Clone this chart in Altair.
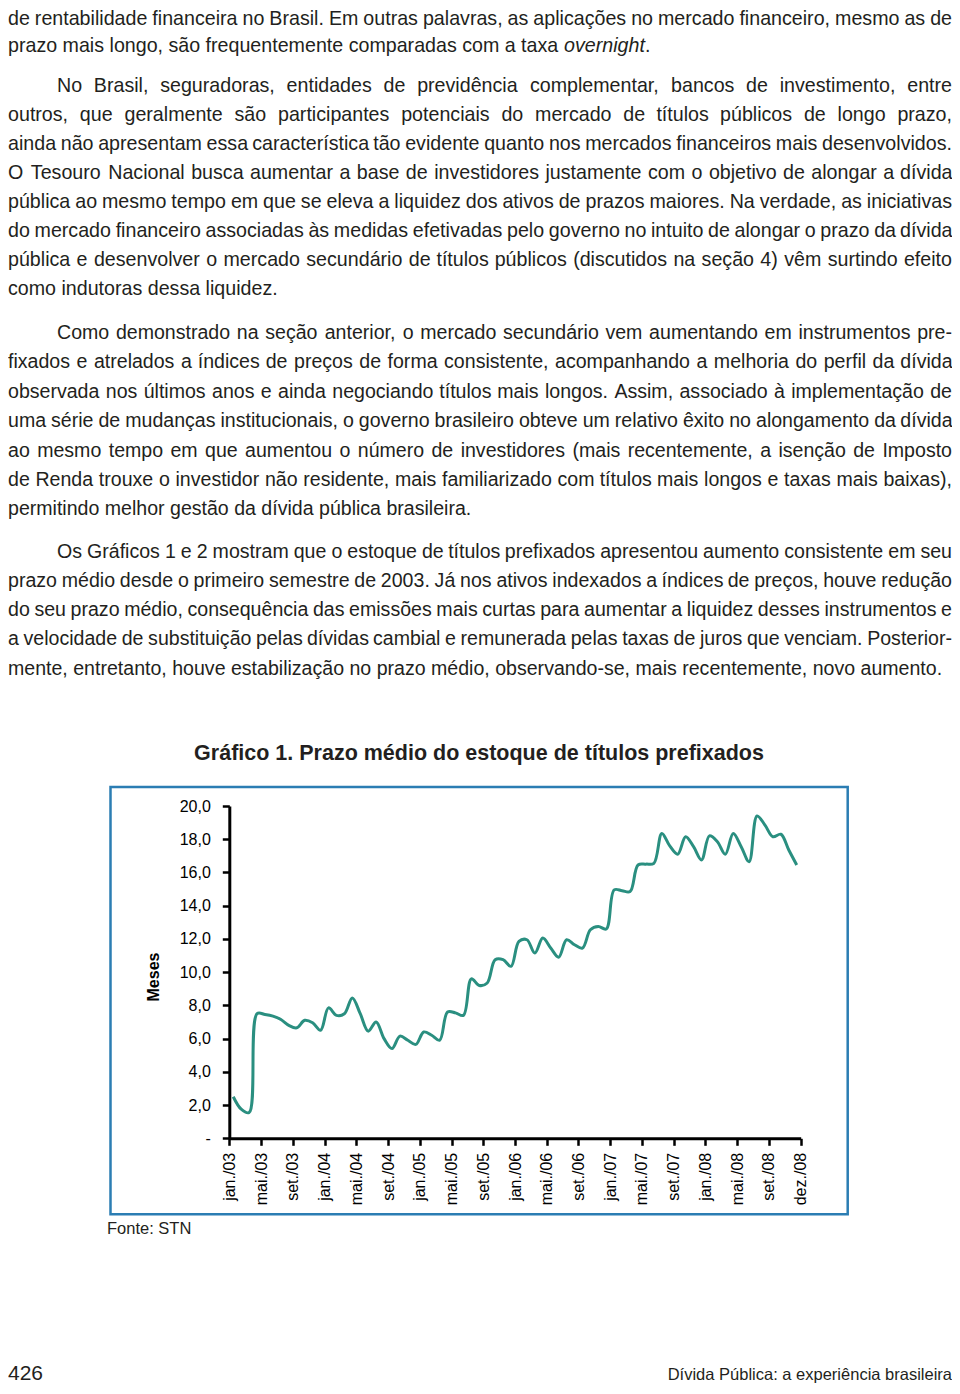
import unicodedata
import numpy as np
import pandas as pd
import altair as alt

# ---------------- chart data ----------------
month_names = ["jan", "fev", "mar", "abr", "mai", "jun", "jul", "ago", "set", "out", "nov", "dez"]
months = [f"{m}./{y:02d}" for y in range(3, 9) for m in month_names]

prazo_medio = [
    2.5, 1.75, 1.55, 7.5, 7.45, 7.35, 7.15, 6.8, 6.65, 7.1, 6.95, 6.5,
    7.85, 7.4, 7.5, 8.45, 7.5, 6.45, 7.0, 6.0, 5.4, 6.15, 5.9, 5.65,
    6.4, 6.2, 5.9, 7.6, 7.55, 7.4, 9.6, 9.2, 9.35, 10.75, 10.75, 10.35,
    11.85, 11.95, 11.15, 12.05, 11.45, 10.9, 11.95, 11.65, 11.45, 12.55, 12.75, 12.6,
    14.95, 14.9, 14.85, 16.45, 16.5, 16.55, 18.35, 17.6, 17.1, 18.15, 17.55, 16.75,
    18.2, 17.85, 17.1, 18.35, 17.55, 16.65, 19.4, 18.85, 18.15, 18.3, 17.35, 16.45,
]

tick_labels = ["jan./03", "mai./03", "set./03", "jan./04", "mai./04", "set./04",
               "jan./05", "mai./05", "set./05", "jan./06", "mai./06", "set./06",
               "jan./07", "mai./07", "set./07", "jan./08", "mai./08", "set./08", "dez./08"]
tick_positions = [0, 4, 8, 12, 16, 20, 24, 28, 32, 36, 40, 44, 48, 52, 56, 60, 64, 68, 72]
y_ticks = [0, 2, 4, 6, 8, 10, 12, 14, 16, 18, 20]

# ---------------- page text ----------------
para1 = [
    "de rentabilidade financeira no Brasil. Em outras palavras, as aplicações no mercado financeiro, mesmo as de",
    "prazo mais longo, são frequentemente comparadas com a taxa overnight.",
]
para1_last_prefix = "prazo mais longo, são frequentemente comparadas com a taxa "
para1_last_italic = "overnight"
para1_last_suffix = "."

para2 = [
    "No Brasil, seguradoras, entidades de previdência complementar, bancos de investimento, entre",
    "outros, que geralmente são participantes potenciais do mercado de títulos públicos de longo prazo,",
    "ainda não apresentam essa característica tão evidente quanto nos mercados financeiros mais desenvolvidos.",
    "O Tesouro Nacional busca aumentar a base de investidores justamente com o objetivo de alongar a dívida",
    "pública ao mesmo tempo em que se eleva a liquidez dos ativos de prazos maiores. Na verdade, as iniciativas",
    "do mercado financeiro associadas às medidas efetivadas pelo governo no intuito de alongar o prazo da dívida",
    "pública e desenvolver o mercado secundário de títulos públicos (discutidos na seção 4) vêm surtindo efeito",
    "como indutoras dessa liquidez.",
]
para3 = [
    "Como demonstrado na seção anterior, o mercado secundário vem aumentando em instrumentos pre-",
    "fixados e atrelados a índices de preços de forma consistente, acompanhando a melhoria do perfil da dívida",
    "observada nos últimos anos e ainda negociando títulos mais longos. Assim, associado à implementação de",
    "uma série de mudanças institucionais, o governo brasileiro obteve um relativo êxito no alongamento da dívida",
    "ao mesmo tempo em que aumentou o número de investidores (mais recentemente, a isenção de Imposto",
    "de Renda trouxe o investidor não residente, mais familiarizado com títulos mais longos e taxas mais baixas),",
    "permitindo melhor gestão da dívida pública brasileira.",
]
para4 = [
    "Os Gráficos 1 e 2 mostram que o estoque de títulos prefixados apresentou aumento consistente em seu",
    "prazo médio desde o primeiro semestre de 2003. Já nos ativos indexados a índices de preços, houve redução",
    "do seu prazo médio, consequência das emissões mais curtas para aumentar a liquidez desses instrumentos e",
    "a velocidade de substituição pelas dívidas cambial e remunerada pelas taxas de juros que venciam. Posterior-",
    "mente, entretanto, houve estabilização no prazo médio, observando-se, mais recentemente, novo aumento.",
]

chart_title = "Gráfico 1. Prazo médio do estoque de títulos prefixados"
y_title = "Meses"
source_text = "Fonte: STN"
page_number = "426"
running_title = "Dívida Pública: a experiência brasileira"

# ---------------- layout helpers ----------------
FONT = "Liberation Sans"
TEXT_COLOR = "#231f20"
TEAL = "#2a8f80"
BLUE = "#2b7db3"
OFF = 8  # page margin
LEFT, RIGHT, INDENT = 0, 944, 49

# Arial / Liberation Sans advance widths (per 1000 em)
W = {" ": 278, ",": 278, ".": 278, "-": 333, "(": 333, ")": 333, ":": 278, "/": 278,
     "A": 667, "B": 667, "C": 722, "D": 722, "E": 667, "F": 611, "G": 778, "H": 722, "I": 278,
     "J": 500, "K": 667, "L": 556, "M": 833, "N": 722, "O": 778, "P": 667, "Q": 778, "R": 722,
     "S": 667, "T": 611, "U": 722, "V": 667, "W": 944, "X": 667, "Y": 667, "Z": 611,
     "a": 556, "b": 556, "c": 500, "d": 556, "e": 556, "f": 278, "g": 556, "h": 556, "i": 222,
     "j": 222, "k": 500, "l": 222, "m": 833, "n": 556, "o": 556, "p": 556, "q": 556, "r": 333,
     "s": 500, "t": 278, "u": 556, "v": 500, "w": 722, "x": 500, "y": 500, "z": 500}


def units(s):
    tot = 0
    for ch in s:
        base = unicodedata.normalize("NFD", ch)[0]
        tot += W.get(base, 556)
    return tot


def text_width(s, size):
    return units(s) * size / 1000


def fit_size(lines, target, indent_first=True):
    size = target
    for k, line in enumerate(lines[:-1]):
        left = LEFT + (INDENT if (k == 0 and indent_first) else 0)
        words = line.split(" ")
        u = sum(units(w) for w in words) + 0.85 * 278 * (len(words) - 1)
        size = min(size, (RIGHT - left) / u * 1000)
    return size


word_rows, line_rows, italic_rows = [], [], []


def layout(lines, baselines, size, indent_first=True, last_plain=True):
    for k, (line, yb) in enumerate(zip(lines, baselines)):
        left = LEFT + (INDENT if (k == 0 and indent_first) else 0)
        if k == len(lines) - 1:
            if last_plain:
                line_rows.append(dict(x=left, y=yb - OFF, text=line, size=size))
            continue
        words = line.split(" ")
        widths = [text_width(w, size) for w in words]
        gap = (RIGHT - left - sum(widths)) / (len(words) - 1)
        x = left
        for w, wd in zip(words, widths):
            word_rows.append(dict(x=x + wd / 2, y=yb - OFF, text=w, size=size))
            x += wd + gap


s1 = min(fit_size(para1, 20.5, False), fit_size(para2, 20.5))
s3 = min(fit_size(para3, 20.5), fit_size(para4, 20.5))

# paragraph 1 (continuation of previous page text, not indented)
b1 = [24.5, 51.5]
layout(para1, b1, s1, indent_first=False, last_plain=False)
x_it = LEFT + text_width(para1_last_prefix, s1)
line_rows.append(dict(x=LEFT, y=b1[1] - OFF, text=para1_last_prefix.rstrip(), size=s1))
italic_rows.append(dict(x=x_it, y=b1[1] - OFF, text=para1_last_italic, size=s1))
line_rows.append(dict(x=x_it + text_width(para1_last_italic, s1), y=b1[1] - OFF,
                      text=para1_last_suffix, size=s1))

layout(para2, [91.7 + 29.05 * i for i in range(len(para2))], s1)
layout(para3, [339.0 + 29.4 * i for i in range(len(para3))], s3)
layout(para4, [557.5 + 29.3 * i for i in range(len(para4))], s3)

words_df = pd.DataFrame(word_rows)
lines_df = pd.DataFrame(line_rows)
italic_df = pd.DataFrame(italic_rows)


def text_layer(df, align, style="normal"):
    return alt.Chart(df).mark_text(
        align=align, baseline="alphabetic", font=FONT, color=TEXT_COLOR, fontStyle=style
    ).encode(
        x=alt.X("x:Q", scale=None, axis=None),
        y=alt.Y("y:Q", scale=None, axis=None),
        size=alt.Size("size:Q", scale=None, legend=None),
        text="text:N",
    )


body_words = text_layer(words_df, "center")
body_lines = text_layer(lines_df, "left")
body_italic = text_layer(italic_df, "left", "italic")

# ---------------- the chart ----------------
df = pd.DataFrame({"mes": months, "prazo": prazo_medio})
df["pos"] = np.arange(len(months)) + 0.5

x0, x1 = 229.3 - OFF, 800.7 - OFF
y0, y1 = 1138.3 - OFF, 806.0 - OFF
H = 1378

label_expr = "[" + ",".join(f"'{t}'" for t in tick_labels) + "][round(datum.value/4)]"

line = alt.Chart(df).mark_line(color=TEAL, strokeWidth=3, interpolate="catmull-rom").encode(
    x=alt.X("pos:Q",
            scale=alt.Scale(domain=[0, 72], range=[x0, x1], nice=False, zero=False),
            axis=alt.Axis(values=tick_positions, labelExpr=label_expr, labelAngle=-90,
                          offset=y0 - H, title=None, grid=False, labelFlush=False,
                          labelOverlap=False, domainColor="black", domainWidth=3,
                          tickColor="black", tickWidth=2.5, tickSize=7,
                          labelFont=FONT, labelFontSize=16, labelColor="black",
                          labelPadding=7)),
    y=alt.Y("prazo:Q",
            scale=alt.Scale(domain=[0, 20], range=[y0, y1], nice=False, zero=False),
            axis=alt.Axis(values=y_ticks,
                          labelExpr="datum.value == 0 ? '-' : replace(format(datum.value, '.1f'), '.', ',')",
                          offset=-x0, title=None, grid=False, labelFlush=False,
                          labelOverlap=False, domainColor="black", domainWidth=3,
                          tickColor="black", tickWidth=2.5, tickSize=7,
                          labelFont=FONT, labelFontSize=16, labelColor="black",
                          labelPadding=12)),
    tooltip=["mes:N", "prazo:Q"],
)

one = alt.Data(values=[{}])

frame = alt.Chart(one).mark_rect(fill=None, stroke=BLUE, strokeWidth=2.5).encode(
    x=alt.value(110.5 - OFF), x2=alt.value(847.7 - OFF),
    y=alt.value(787.0 - OFF), y2=alt.value(1214.3 - OFF),
)

title = alt.Chart(one).mark_text(
    text=chart_title, font=FONT, fontWeight="bold", fontSize=21.5, color=TEXT_COLOR,
    align="center", baseline="alphabetic",
).encode(x=alt.value(479 - OFF), y=alt.value(760 - OFF))

ytitle = alt.Chart(one).mark_text(
    text=y_title, font=FONT, fontWeight="bold", fontSize=16, color="black",
    align="center", baseline="middle", angle=270,
).encode(x=alt.value(154 - OFF), y=alt.value(977 - OFF))

source = alt.Chart(one).mark_text(
    text=source_text, font=FONT, fontSize=16.5, color=TEXT_COLOR,
    align="left", baseline="alphabetic",
).encode(x=alt.value(107 - OFF), y=alt.value(1234 - OFF))

pnum = alt.Chart(one).mark_text(
    text=page_number, font=FONT, fontSize=21, color=TEXT_COLOR,
    align="left", baseline="alphabetic",
).encode(x=alt.value(0), y=alt.value(1372))

running = alt.Chart(one).mark_text(
    text=running_title, font=FONT, fontSize=16.5, color=TEXT_COLOR,
    align="right", baseline="alphabetic",
).encode(x=alt.value(RIGHT), y=alt.value(1372))

chart = alt.layer(
    frame, line, title, ytitle, source, pnum, running, body_words, body_lines, body_italic
).resolve_scale(
    x="independent", y="independent", size="independent"
).properties(
    width=944, height=H, padding=0, autosize=alt.AutoSizeParams(type="none")
).configure_view(stroke=None)

chart.save("out.html", embed_options={"renderer": "svg", "actions": False})
